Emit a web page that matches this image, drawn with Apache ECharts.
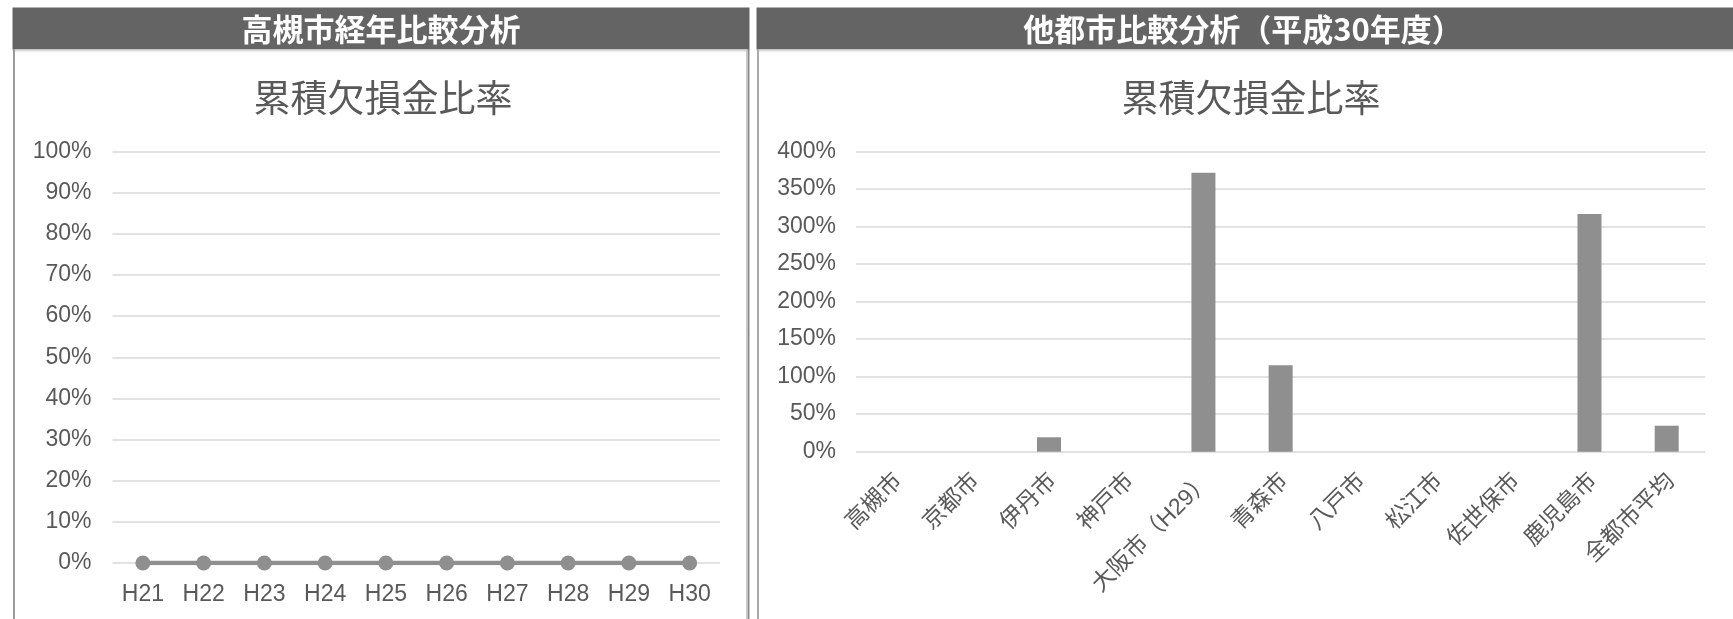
<!DOCTYPE html>
<html lang="ja">
<head>
<meta charset="utf-8">
<title>累積欠損金比率</title>
<script src="https://cdn.jsdelivr.net/npm/echarts@6/dist/echarts.min.js"></script>
<style>
  html, body { margin: 0; padding: 0; background: #ffffff; }
  #chart { width: 1733px; height: 619px; }
</style>
</head>
<body>
<div id="chart"></div>
<script>
// 高槻市 経年比較（%）
const yearLabels = ['H21', 'H22', 'H23', 'H24', 'H25', 'H26', 'H27', 'H28', 'H29', 'H30'];
const takatsukiRatio = [0, 0, 0, 0, 0, 0, 0, 0, 0, 0];

// 他都市比較 平成30年度（%）
const cityLabels = ['高槻市', '京都市', '伊丹市', '神戸市', '大阪市（H29）', '青森市', '八戸市', '松江市', '佐世保市', '鹿児島市', '全都市平均'];
const cityRatio = [0, 0, 19.2, 0, 371.5, 115, 0, 0, 0, 316.5, 34.6];

// 見出し・タイトル
const leftHeader = '高槻市経年比較分析';
const rightHeader = '他都市比較分析（平成30年度）';
const chartTitle = '累積欠損金比率';

const FONT = '"Liberation Sans", Arial, "Noto Sans CJK JP", sans-serif';
const CJK_FONT = '"Noto Sans CJK JP", "Liberation Sans", sans-serif';
const TEXT_GRAY = '#595959';
const GRID_GRAY = '#d9d9d9';
const MARK_GRAY = '#8f8f8f';
const HEADER_GRAY = '#646464';
const BORDER_GRAY = '#9a9a9a';

const chart = echarts.init(document.getElementById('chart'), null, { renderer: 'canvas' });

function pct(v) { return v + '%'; }

const option = {
  animation: false,
  backgroundColor: '#ffffff',
  graphic: [
    // 左パネル
    { type: 'rect', shape: { x: 12.5, y: 7.5, width: 737, height: 42 }, style: { fill: HEADER_GRAY }, silent: true },
    { type: 'line', shape: { x1: 12.5, y1: 50.5, x2: 749.5, y2: 50.5 }, style: { stroke: '#dcdcdc', lineWidth: 2 }, silent: true },
    { type: 'line', shape: { x1: 14, y1: 49, x2: 14, y2: 619 }, style: { stroke: BORDER_GRAY, lineWidth: 2 }, silent: true },
    { type: 'line', shape: { x1: 746.5, y1: 50, x2: 746.5, y2: 619 }, style: { stroke: '#c8c8c8', lineWidth: 1 }, silent: true },
    { type: 'line', shape: { x1: 748.5, y1: 49, x2: 748.5, y2: 619 }, style: { stroke: '#8a8a8a', lineWidth: 2 }, silent: true },
    { type: 'text', x: 381, y: 29, style: { text: leftHeader, fill: '#ffffff', font: 'bold 31px ' + CJK_FONT, align: 'center', verticalAlign: 'middle' }, silent: true },
    // 右パネル
    { type: 'rect', shape: { x: 756.5, y: 7.5, width: 977, height: 42 }, style: { fill: HEADER_GRAY }, silent: true },
    { type: 'line', shape: { x1: 756.5, y1: 50.5, x2: 1733, y2: 50.5 }, style: { stroke: '#dcdcdc', lineWidth: 2 }, silent: true },
    { type: 'line', shape: { x1: 758, y1: 49, x2: 758, y2: 619 }, style: { stroke: '#a8a8a8', lineWidth: 2 }, silent: true },
    { type: 'text', x: 1243, y: 29, style: { text: rightHeader, fill: '#ffffff', font: 'bold 31px ' + CJK_FONT, align: 'center', verticalAlign: 'middle' }, silent: true }
  ],
  title: [
    { text: chartTitle, left: 378, top: 93, textAlign: 'center', textVerticalAlign: 'middle',
      textStyle: { color: TEXT_GRAY, fontSize: 37, fontWeight: 'normal', fontFamily: CJK_FONT } },
    { text: chartTitle, left: 1246, top: 93, textAlign: 'center', textVerticalAlign: 'middle',
      textStyle: { color: TEXT_GRAY, fontSize: 37, fontWeight: 'normal', fontFamily: CJK_FONT } }
  ],
  grid: [
    { left: 112.5, top: 151.5, width: 607.5, height: 411.5, containLabel: false },
    { left: 856, top: 151.3, width: 849.3, height: 300.4, containLabel: false }
  ],
  xAxis: [
    {
      type: 'category', gridIndex: 0, data: yearLabels, boundaryGap: true,
      axisLine: { show: false }, axisTick: { show: false },
      axisLabel: { color: TEXT_GRAY, fontSize: 23, fontFamily: FONT, margin: 20, interval: 0 }
    },
    {
      type: 'category', gridIndex: 1, data: cityLabels, boundaryGap: true,
      axisLine: { show: false }, axisTick: { show: false },
      axisLabel: { color: TEXT_GRAY, fontSize: 23, fontFamily: FONT, margin: 30, interval: 0, rotate: 45, padding: [0, -6, 0, 0] }
    }
  ],
  yAxis: [
    {
      type: 'value', gridIndex: 0, min: 0, max: 100, interval: 10,
      axisLine: { show: false }, axisTick: { show: false },
      splitLine: { lineStyle: { color: GRID_GRAY, width: 1.5 } },
      axisLabel: { color: TEXT_GRAY, fontSize: 23, fontFamily: FONT, margin: 21, formatter: pct }
    },
    {
      type: 'value', gridIndex: 1, min: 0, max: 400, interval: 50,
      axisLine: { show: false }, axisTick: { show: false },
      splitLine: { lineStyle: { color: GRID_GRAY, width: 1.5 } },
      axisLabel: { color: TEXT_GRAY, fontSize: 23, fontFamily: FONT, margin: 20, formatter: pct }
    }
  ],
  series: [
    {
      name: chartTitle, type: 'line', xAxisIndex: 0, yAxisIndex: 0, data: takatsukiRatio,
      symbol: 'circle', symbolSize: 15,
      lineStyle: { color: MARK_GRAY, width: 4.5 },
      itemStyle: { color: MARK_GRAY }
    },
    {
      name: chartTitle, type: 'bar', xAxisIndex: 1, yAxisIndex: 1, data: cityRatio,
      barWidth: 24,
      itemStyle: { color: MARK_GRAY }
    }
  ]
};

chart.setOption(option);
</script>
</body>
</html>
